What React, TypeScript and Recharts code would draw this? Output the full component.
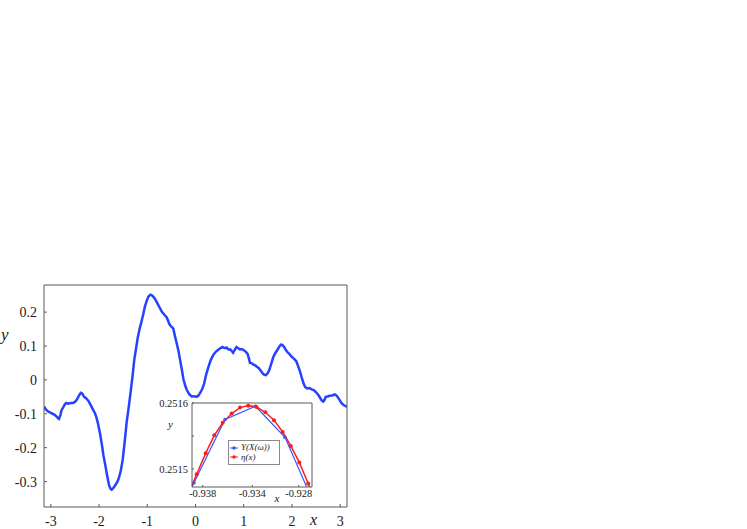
import React from 'react';
import { LineChart, Line, XAxis, YAxis, Legend, Label } from 'recharts';

// ---------- main curve ----------
const MAIN_X = [
  -3.14, -3.1, -3.05, -3.0, -2.96, -2.92, -2.88, -2.85, -2.83, -2.8, -2.78, -2.74, -2.71, -2.68, -2.64, -2.59,
  -2.54, -2.5, -2.46, -2.42, -2.38, -2.35, -2.31, -2.27, -2.22, -2.17, -2.12, -2.08, -2.05, -2.02, -1.98, -1.94,
  -1.91, -1.87, -1.84, -1.81, -1.79, -1.76, -1.74, -1.71, -1.68, -1.66, -1.62, -1.59, -1.55, -1.51, -1.47, -1.43,
  -1.38, -1.34, -1.3, -1.27, -1.23, -1.2, -1.16, -1.12, -1.08, -1.05, -1.01, -0.98, -0.95, -0.93, -0.9, -0.86,
  -0.82, -0.79, -0.75, -0.7, -0.65, -0.6, -0.57, -0.54, -0.5, -0.46, -0.43, -0.39, -0.35, -0.32, -0.28, -0.25,
  -0.21, -0.18, -0.13, -0.08, -0.03, 0.02, 0.06, 0.09, 0.14, 0.18, 0.22, 0.27, 0.32, 0.37, 0.42, 0.47,
  0.52, 0.56, 0.6, 0.65, 0.69, 0.72, 0.76, 0.78, 0.82, 0.85, 0.88, 0.92, 0.96, 1.01, 1.05, 1.08,
  1.11, 1.13, 1.17, 1.2, 1.24, 1.27, 1.31, 1.35, 1.4, 1.43, 1.46, 1.5, 1.53, 1.57, 1.61, 1.65,
  1.7, 1.74, 1.77, 1.8, 1.84, 1.87, 1.9, 1.95, 1.99, 2.04, 2.09, 2.13, 2.17, 2.2, 2.24, 2.27,
  2.31, 2.36, 2.41, 2.46, 2.51, 2.55, 2.58, 2.62, 2.65, 2.68, 2.7, 2.74, 2.78, 2.83, 2.89, 2.93,
  2.96, 3.0, 3.03, 3.07, 3.11, 3.14,
];
const MAIN_Y = [
  -0.079, -0.088, -0.094, -0.097, -0.1, -0.103, -0.108, -0.113, -0.115, -0.103, -0.09, -0.08, -0.072, -0.068, -0.07, -0.068,
  -0.068, -0.065, -0.058, -0.047, -0.038, -0.04, -0.05, -0.054, -0.062, -0.075, -0.089, -0.1, -0.113, -0.13, -0.158, -0.192,
  -0.222, -0.252, -0.276, -0.298, -0.312, -0.322, -0.324, -0.32, -0.314, -0.31, -0.3, -0.29, -0.268, -0.236, -0.185, -0.128,
  -0.075, -0.03, 0.018, 0.059, 0.095, 0.123, 0.15, 0.172, 0.196, 0.216, 0.234, 0.245, 0.25, 0.2516, 0.249, 0.243,
  0.234, 0.226, 0.215, 0.202, 0.193, 0.185, 0.175, 0.164, 0.157, 0.151, 0.132, 0.108, 0.083, 0.059, 0.028, 0.002,
  -0.018, -0.03, -0.042, -0.049, -0.048, -0.05, -0.046, -0.04, -0.027, -0.01, 0.015, 0.039, 0.06, 0.074, 0.083, 0.089,
  0.094, 0.097, 0.094, 0.095, 0.089, 0.09, 0.084, 0.08, 0.09, 0.097, 0.094, 0.09, 0.091, 0.087, 0.082, 0.077,
  0.062, 0.05, 0.049, 0.045, 0.043, 0.039, 0.035, 0.028, 0.018, 0.015, 0.014, 0.02, 0.029, 0.047, 0.066, 0.078,
  0.089, 0.099, 0.104, 0.103, 0.097, 0.089, 0.083, 0.076, 0.069, 0.063, 0.055, 0.04, 0.024, 0.008, -0.01, -0.02,
  -0.025, -0.024, -0.028, -0.031, -0.038, -0.045, -0.052, -0.061, -0.064, -0.058, -0.05, -0.049, -0.047, -0.046, -0.043, -0.047,
  -0.053, -0.062, -0.069, -0.074, -0.077, -0.08,
];
const X_DOMAIN = [-Math.PI, Math.PI];
const Y_DOMAIN = [-0.375, 0.28];
const X_TICKS = [-3, -2, -1, 0, 1, 2, 3];
const Y_TICKS = [-0.3, -0.2, -0.1, 0, 0.1, 0.2];
const Y_TICK_LABELS = ['-0.3', '-0.2', '-0.1', '0', '0.1', '0.2'];

// ---------- inset ----------
const BLUE_X = [-0.941161, -0.938702, -0.936202, -0.933742, -0.931363, -0.928903];
const BLUE_Y = [0.251384, 0.251479, 0.251575, 0.251595, 0.251548, 0.251442];
const RED_X = [
  -0.939169, -0.938484, -0.937758, -0.937065, -0.936387, -0.935661, -0.934992, -0.934323,
  -0.933661, -0.932952, -0.93225, -0.931548, -0.930895, -0.93021, -0.929492, -0.928798,
];
const RED_Y = [
  0.251462, 0.251492, 0.251524, 0.251551, 0.25157, 0.251584, 0.251593, 0.251596,
  0.251594, 0.251586, 0.251574, 0.251556, 0.251535, 0.25151, 0.251478, 0.251448,
];
const INSET_X_DOMAIN = [-0.938863, -0.929186];
const INSET_Y_DOMAIN = [0.2514727, 0.2516];
const INSET_X_TICKS = [-0.938, -0.934, -0.930258];
const INSET_X_TICK_LABELS = ['-0.938', '-0.934', '-0.928'];
const INSET_Y_TICKS = [0.2515, 0.25155, 0.2516];
const INSET_Y_TICK_LABELS = ['0.2515', '', '0.2516'];
const LEGEND_LABELS = ['Y(X(ω))', 'η(x)'];

const BLUE = '#2442ff';
const INSET_BLUE = '#3558ff';
const RED = '#ff1c1c';
const FRAME = '#5a5a5a';
const FONT = '"Liberation Serif", "Times New Roman", serif';

const mainData = MAIN_X.map((x, i) => ({ x, y: MAIN_Y[i] }));
const blueData = BLUE_X.map((x, i) => ({ x, v: BLUE_Y[i] }));
const redData = RED_X.map((x, i) => ({ x, v: RED_Y[i] }));

const inInset = (p: any) =>
  p.payload &&
  p.payload.x >= INSET_X_DOMAIN[0] &&
  p.payload.x <= INSET_X_DOMAIN[1] &&
  p.payload.v >= INSET_Y_DOMAIN[0] &&
  p.payload.v <= INSET_Y_DOMAIN[1];

const makeDot = (color: string, r: number) => (p: any) =>
  inInset(p) ? (
    <circle key={`d-${p.index}`} cx={p.cx} cy={p.cy} r={r} fill={color} stroke="none" />
  ) : (
    <g key={`d-${p.index}`} />
  );

const InsetLegend = () => (
  <div
    style={{
      border: '1px solid #8a8a8a',
      background: '#fff',
      padding: '2px 2px 2px 1px',
      width: 52,
      height: 25,
      boxSizing: 'border-box',
    }}
  >
    {LEGEND_LABELS.map((label, i) => {
      const color = i === 0 ? INSET_BLUE : RED;
      return (
        <div
          key={label}
          style={{
            display: 'flex',
            alignItems: 'center',
            height: 9.5,
            fontFamily: FONT,
            fontStyle: 'italic',
            fontSize: 9,
            lineHeight: '9.5px',
            color: '#222',
            whiteSpace: 'nowrap',
          }}
        >
          <svg width={8} height={6} style={{ display: 'block' }}>
            <line x1={0} y1={3} x2={8} y2={3} stroke={color} strokeWidth={1} />
            <circle cx={4} cy={3} r={1.7} fill={color} />
          </svg>
          <span style={{ marginLeft: 3 }}>{label}</span>
        </div>
      );
    })}
  </div>
);

const tickStyle = { fill: '#1a1a1a', fontSize: 14, fontFamily: FONT, stroke: 'none' };
const insetTickStyle = { fill: '#1a1a1a', fontSize: 10.5, fontFamily: FONT, stroke: 'none' };

export default function App() {
  return (
    <div style={{ position: 'absolute', left: 0, top: 0, width: 747, height: 529, background: '#fff' }}>
      <LineChart width={747} height={529} data={mainData} margin={{ top: 284, right: 399, bottom: 0, left: 0 }}>
        <XAxis
          xAxisId="b"
          type="number"
          dataKey="x"
          orientation="bottom"
          domain={X_DOMAIN}
          allowDataOverflow
          ticks={X_TICKS}
          interval={0}
          height={22}
          tickSize={-3}
          tickMargin={12}
          axisLine={{ stroke: FRAME }}
          tickLine={{ stroke: FRAME }}
          tick={tickStyle}
        >
          <Label
            content={() => (
              <text x={310} y={524.5} fontFamily={FONT} fontStyle="italic" fontSize={16} fill="#1a1a1a">
                x
              </text>
            )}
          />
        </XAxis>
        <XAxis
          xAxisId="t"
          type="number"
          dataKey="x"
          orientation="top"
          domain={X_DOMAIN}
          allowDataOverflow
          ticks={X_TICKS}
          interval={0}
          height={1}
          tickSize={-3}
          axisLine={{ stroke: FRAME }}
          tickLine={{ stroke: FRAME }}
          tick={false}
        />
        <YAxis
          yAxisId="l"
          type="number"
          orientation="left"
          domain={Y_DOMAIN}
          allowDataOverflow
          ticks={Y_TICKS}
          interval={0}
          width={44}
          tickSize={-3}
          tickMargin={10}
          axisLine={{ stroke: FRAME }}
          tickLine={{ stroke: FRAME }}
          tick={tickStyle}
          tickFormatter={(v: number) => Y_TICK_LABELS[Y_TICKS.indexOf(v)] ?? String(v)}
        >
          <Label
            content={() => (
              <text x={1} y={340} fontFamily={FONT} fontStyle="italic" fontSize={17} fill="#1a1a1a">
                y
              </text>
            )}
          />
        </YAxis>
        <YAxis
          yAxisId="r"
          type="number"
          orientation="right"
          domain={Y_DOMAIN}
          allowDataOverflow
          ticks={Y_TICKS}
          interval={0}
          width={1}
          tickSize={-3}
          axisLine={{ stroke: FRAME }}
          tickLine={{ stroke: FRAME }}
          tick={false}
        />
        <Line
          xAxisId="b"
          yAxisId="l"
          type="linear"
          dataKey="y"
          stroke={BLUE}
          strokeWidth={2.5}
          dot={false}
          activeDot={false}
          isAnimationActive={false}
        />
      </LineChart>

      <div style={{ position: 'absolute', left: 150, top: 395 }}>
        <LineChart width={175} height={115} margin={{ top: 7, right: 12, bottom: 0, left: 0 }}>
          <XAxis
            xAxisId="b"
            type="number"
            dataKey="x"
            orientation="bottom"
            domain={INSET_X_DOMAIN}
            allowDataOverflow
            ticks={INSET_X_TICKS}
            interval={0}
            height={23}
            tickSize={-2}
            tickMargin={4.5}
            axisLine={{ stroke: FRAME }}
            tickLine={{ stroke: FRAME }}
            tick={insetTickStyle}
            tickFormatter={(v: number) => INSET_X_TICK_LABELS[INSET_X_TICKS.indexOf(v)] ?? ''}
          >
            <Label
              content={() => (
                <text x={124.5} y={106.5} fontFamily={FONT} fontStyle="italic" fontSize={11} fill="#1a1a1a">
                  x
                </text>
              )}
            />
          </XAxis>
          <XAxis
            xAxisId="t"
            type="number"
            dataKey="x"
            orientation="top"
            domain={INSET_X_DOMAIN}
            allowDataOverflow
            ticks={INSET_X_TICKS}
            interval={0}
            height={1}
            tickSize={-2}
            axisLine={{ stroke: FRAME }}
            tickLine={{ stroke: FRAME }}
            tick={false}
          />
          <YAxis
            yAxisId="l"
            type="number"
            orientation="left"
            domain={INSET_Y_DOMAIN}
            allowDataOverflow
            ticks={INSET_Y_TICKS}
            interval={0}
            width={42}
            tickSize={-2}
            tickMargin={6}
            axisLine={{ stroke: FRAME }}
            tickLine={{ stroke: FRAME }}
            tick={insetTickStyle}
            tickFormatter={(v: number) => INSET_Y_TICK_LABELS[INSET_Y_TICKS.indexOf(v)] ?? ''}
          >
            <Label
              content={() => (
                <text x={18} y={33} fontFamily={FONT} fontStyle="italic" fontSize={11} fill="#1a1a1a">
                  y
                </text>
              )}
            />
          </YAxis>
          <YAxis
            yAxisId="r"
            type="number"
            orientation="right"
            domain={INSET_Y_DOMAIN}
            allowDataOverflow
            ticks={INSET_Y_TICKS}
            interval={0}
            width={1}
            tickSize={-2}
            axisLine={{ stroke: FRAME }}
            tickLine={{ stroke: FRAME }}
            tick={false}
          />
          <Line
            data={blueData}
            xAxisId="b"
            yAxisId="l"
            type="linear"
            dataKey="v"
            name={LEGEND_LABELS[0]}
            stroke={INSET_BLUE}
            strokeWidth={1.2}
            dot={makeDot(INSET_BLUE, 1.8)}
            activeDot={false}
            isAnimationActive={false}
          />
          <Line
            data={redData}
            xAxisId="b"
            yAxisId="l"
            type="linear"
            dataKey="v"
            name={LEGEND_LABELS[1]}
            stroke={RED}
            strokeWidth={1.5}
            dot={makeDot(RED, 2)}
            activeDot={false}
            isAnimationActive={false}
          />
          <Legend
            layout="vertical"
            align="center"
            verticalAlign="middle"
            content={() => <InsetLegend />}
            wrapperStyle={{ left: 78, top: 45, width: 52, height: 25, margin: 0 }}
          />
        </LineChart>
      </div>
    </div>
  );
}
